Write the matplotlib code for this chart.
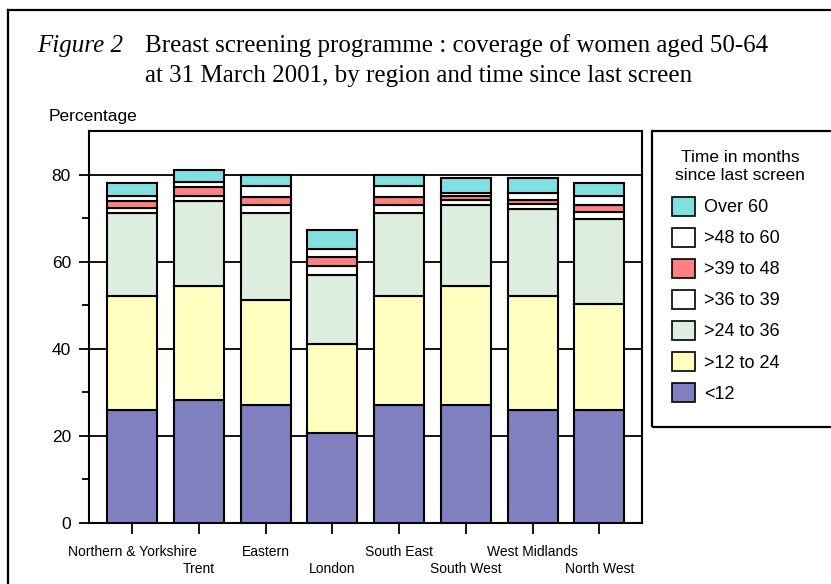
import matplotlib
matplotlib.use("Agg")
import matplotlib.pyplot as plt
from matplotlib.patches import Rectangle, Patch
from matplotlib.lines import Line2D
import numpy as np

regions = ["Northern & Yorkshire", "Trent", "Eastern", "London",
           "South East", "South West", "West Midlands", "North West"]

lt12      = [25.9, 28.2, 27.2, 20.7, 27.2, 27.2, 25.9, 25.9]
m12_24    = [26.2, 26.2, 23.9, 20.3, 24.9, 27.2, 26.2, 24.3]
m24_36    = [19.1, 19.5, 20.1, 16.0, 19.1, 18.5, 19.9, 19.5]
m36_39    = [1.1, 1.1, 1.9, 1.9, 1.9, 1.2, 1.2, 1.6]
m39_48    = [1.6, 2.1, 1.7, 2.2, 1.7, 0.9, 0.9, 1.8]
m48_60    = [1.2, 1.2, 2.6, 1.9, 2.5, 0.8, 1.7, 1.9]
over60    = [3.0, 2.7, 2.6, 4.2, 2.7, 3.3, 3.3, 3.1]

series = [lt12, m12_24, m24_36, m36_39, m39_48, m48_60, over60]
series_labels = ["<12", ">12 to 24", ">24 to 36", ">36 to 39",
                 ">39 to 48", ">48 to 60", "Over 60"]
colors = ["#8080C0", "#FFFFC0", "#DDEDDE", "#FFFFFF",
          "#FF8080", "#FFFFFF", "#80E0E0"]

W, H = 831, 584
fig = plt.figure(figsize=(W / 100, H / 100), dpi=100)

def fx(px):
    return px / W

def fy(py):
    return 1 - py / H

# outer frame (left and top lines)
fig.add_artist(Line2D([fx(8), fx(8)], [0, fy(10)], color="black", lw=1.6,
                      transform=fig.transFigure))
fig.add_artist(Line2D([fx(8), 1.0], [fy(10), fy(10)], color="black", lw=1.6,
                      transform=fig.transFigure))

# title
serif = ["Liberation Serif", "DejaVu Serif"]
fig.text(fx(37), fy(46), "Figure 2", family=serif, style="italic",
         fontsize=18, va="center", ha="left")
fig.text(fx(145), fy(46), "Breast screening programme : coverage of women aged 50-64",
         family=serif, fontsize=18, va="center", ha="left")
fig.text(fx(145), fy(76), "at 31 March 2001, by region and time since last screen",
         family=serif, fontsize=18, va="center", ha="left")

sans = ["Liberation Sans", "DejaVu Sans"]

ax_l, ax_r, ax_t, ax_b = 89, 642, 131, 523
ax = fig.add_axes([fx(ax_l), fy(ax_b), fx(ax_r - ax_l), (ax_b - ax_t) / H])

x = np.arange(len(regions))
bottom = np.zeros(len(regions))
for vals, col, lab in zip(series, colors, series_labels):
    ax.bar(x, vals, bottom=bottom, width=0.75, color=col, edgecolor="black",
           linewidth=1.5, zorder=3, label=lab)
    bottom += np.array(vals)

ax.set_ylim(0, 90)
ax.set_xlim(-0.65, 7.64)
ax.set_yticks([0, 20, 40, 60, 80])
ax.set_yticks([10, 30, 50, 70], minor=True)
for g in [20, 40, 60, 80]:
    ax.axhline(g, color="black", lw=1.3, zorder=1)

ax.set_xticks(x[0::2], [regions[i] for i in range(0, 8, 2)])
ax.set_xticks(x[1::2], [regions[i] for i in range(1, 8, 2)], minor=True)
ax.tick_params(axis="x", which="major", length=8, width=1.3, pad=8,
               labelsize=10)
ax.tick_params(axis="x", which="minor", length=8, width=1.3, pad=20,
               labelsize=10)
ax.tick_params(axis="y", which="major", length=7, width=1.3, pad=6,
               labelsize=12.5)
ax.tick_params(axis="y", which="minor", length=5, width=1.3)
for lbl in ax.get_xticklabels(which="both"):
    lbl.set_family(sans)
for lbl in ax.get_yticklabels():
    lbl.set_family(sans)
for s in ax.spines.values():
    s.set_linewidth(1.5)

fig.text(fx(49), fy(117), "Percentage", family=sans, fontsize=12.5,
         va="center", ha="left")

# legend box
fig.add_artist(Rectangle((fx(652), fy(427)), 1.0, fy(131) - fy(427),
                         transform=fig.transFigure, facecolor="none",
                         edgecolor="black", lw=1.6))
fig.text(fx(740), fy(166), "Time in months\nsince last screen", family=sans,
         fontsize=12.5, ha="center", va="center", linespacing=1.25)

handles = [Patch(facecolor=c, edgecolor="black", lw=1.2, label=l)
           for c, l in zip(colors, series_labels)][::-1]
leg = fig.legend(handles=handles, loc="upper left",
                 bbox_to_anchor=(fx(672), fy(197)), frameon=False,
                 prop={"family": sans, "size": 13}, borderpad=0,
                 handlelength=1.28, handleheight=1.22, handletextpad=0.5,
                 labelspacing=0.64, borderaxespad=0)

fig.savefig("out.png", dpi=100)
